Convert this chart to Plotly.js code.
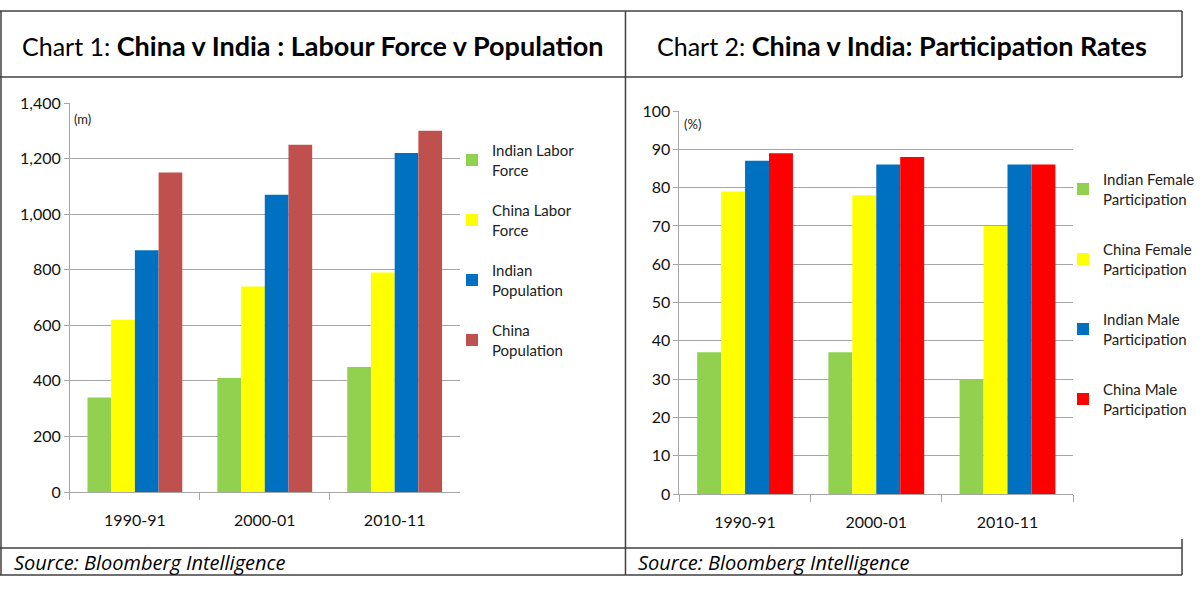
<!DOCTYPE html>
<html>
<head>
<meta charset="utf-8">
<script src="https://cdn.plot.ly/plotly-3.0.1.min.js"></script>
<style>
  html, body { margin: 0; padding: 0; background: #fff; overflow: hidden; width: 1200px; height: 594px; }
  #chart { width: 1200px; height: 594px; overflow: hidden; }
</style>
</head>
<body>
<div id="chart"></div>
<script>
// categories shared by both charts
const years = ['1990-91', '2000-01', '2010-11'];

// Chart 1: labour force v population (millions)
const indianLaborForce = [340, 410, 450];
const chinaLaborForce = [620, 740, 790];
const indianPopulation = [870, 1070, 1220];
const chinaPopulation = [1150, 1250, 1300];

// Chart 2: participation rates (%)
const indianFemale = [37, 37, 30];
const chinaFemale = [79, 78, 70];
const indianMale = [87, 86, 86];
const chinaMale = [89, 88, 86];

const W = 1200, H = 594;
const BODY = 'Lato, "Open Sans", sans-serif';

/**
 * Pixel position to paper fraction
 */
function px(x){ return x / W; }
function py(y){ return 1 - y / H; }

/**
 * Builds one bar trace
 */
function bar(name, values, color, xa, ya, legend){
  return {
    type: 'bar',
    name: name,
    x: years,
    y: values,
    xaxis: xa,
    yaxis: ya,
    legend: legend,
    legendgroup: name,
    marker: {color: color, line: {width: 0}},
    hoverinfo: 'y'
  };
}

const data = [
  bar('Indian Labor<br>Force', indianLaborForce, '#92D050', 'x', 'y', 'legend'),
  bar('China Labor<br>Force', chinaLaborForce, '#FFFF00', 'x', 'y', 'legend'),
  bar('Indian<br>Population', indianPopulation, '#0070C0', 'x', 'y', 'legend'),
  bar('China<br>Population', chinaPopulation, '#C0504D', 'x', 'y', 'legend'),
  bar('Indian Female<br>Participation', indianFemale, '#92D050', 'x2', 'y2', 'legend2'),
  bar('China Female<br>Participation', chinaFemale, '#FFFF00', 'x2', 'y2', 'legend2'),
  bar('Indian Male<br>Participation', indianMale, '#0070C0', 'x2', 'y2', 'legend2'),
  bar('China Male<br>Participation', chinaMale, '#FF0000', 'x2', 'y2', 'legend2')
];

const xCommon = {
  type: 'category',
  showgrid: false,
  showline: true,
  linecolor: '#A6A6A6',
  linewidth: 1,
  ticks: 'outside',
  tickson: 'boundaries',
  ticklen: 7,
  tickcolor: '#A6A6A6',
  ticklabelstandoff: 14,
  tickfont: {family: BODY, size: 16, color: '#111'},
  fixedrange: true
};
const yCommon = {
  showgrid: true,
  gridcolor: '#A6A6A6',
  gridwidth: 1,
  showline: true,
  linecolor: '#A6A6A6',
  ticks: 'outside',
  ticklen: 5,
  tickcolor: '#A6A6A6',
  zeroline: false,
  tickfont: {family: BODY, size: 16, color: '#111'},
  fixedrange: true
};

const legendCommon = {
  font: {family: BODY, size: 15, color: '#222'},
  bgcolor: 'rgba(0,0,0,0)',
  itemwidth: 30,
  itemclick: false,
  xanchor: 'left',
  yanchor: 'top'
};

// frame lines round both panels
function line(x0, y0, x1, y1){
  return {type: 'line', xref: 'paper', yref: 'paper',
    x0: px(x0), y0: py(y0), x1: px(x1), y1: py(y1),
    line: {color: '#404040', width: 1.5}};
}
const shapes = [
  line(0, 11, 1183, 11),
  line(0, 77, 1183, 77),
  line(0, 548, 1183, 548),
  line(0, 575, 1183, 575),
  line(1, 11, 1, 575),
  line(626, 11, 626, 575),
  line(1183, 11, 1183, 77),
  line(1183, 539, 1183, 575)
];

function note(text, x, y, font, anchor){
  return {text: text, xref: 'paper', yref: 'paper', x: px(x), y: py(y),
    xanchor: anchor || 'left', yanchor: 'middle', showarrow: false, font: font};
}
const annotations = [
  note('Chart 1: <b style="font-size:27px">China v India : Labour Force v Population</b>', 313, 46,
    {family: BODY, size: 25, color: '#000'}, 'center'),
  note('Chart 2: <b style="font-size:27px">China v India: Participation Rates</b>', 903, 46,
    {family: BODY, size: 25, color: '#000'}, 'center'),
  note('(m)', 72, 119, {family: BODY, size: 13, color: '#222'}),
  note('(%)', 683, 124, {family: BODY, size: 13, color: '#222'}),
  note('<i>Source: Bloomberg Intelligence</i>', 12, 562, {family: '"Open Sans", sans-serif', size: 20, color: '#000'}),
  note('<i>Source: Bloomberg Intelligence</i>', 637, 562, {family: '"Open Sans", sans-serif', size: 20, color: '#000'})
];

const layout = {
  width: W,
  height: H,
  margin: {l: 0, r: 0, t: 0, b: 0},
  paper_bgcolor: '#fff',
  plot_bgcolor: '#fff',
  barmode: 'group',
  bargap: 0.27,
  bargroupgap: 0,
  xaxis: Object.assign({}, xCommon, {domain: [px(70), px(460)], anchor: 'y'}),
  yaxis: Object.assign({}, yCommon, {domain: [py(492), py(103)], range: [0, 1400], dtick: 200,
    tickformat: ',', anchor: 'x'}),
  xaxis2: Object.assign({}, xCommon, {domain: [px(680), px(1074)], anchor: 'y2'}),
  yaxis2: Object.assign({}, yCommon, {domain: [py(494), py(111)], range: [0, 100], dtick: 10, anchor: 'x2'}),
  legend: Object.assign({}, legendCommon, {x: px(452), y: py(134), tracegroupgap: 18}),
  legend2: Object.assign({}, legendCommon, {x: px(1064), y: py(163), tracegroupgap: 28}),
  shapes: shapes,
  annotations: annotations,
  showlegend: true
};

Plotly.newPlot('chart', data, layout, {displayModeBar: false, staticPlot: true});
</script>
</body>
</html>
